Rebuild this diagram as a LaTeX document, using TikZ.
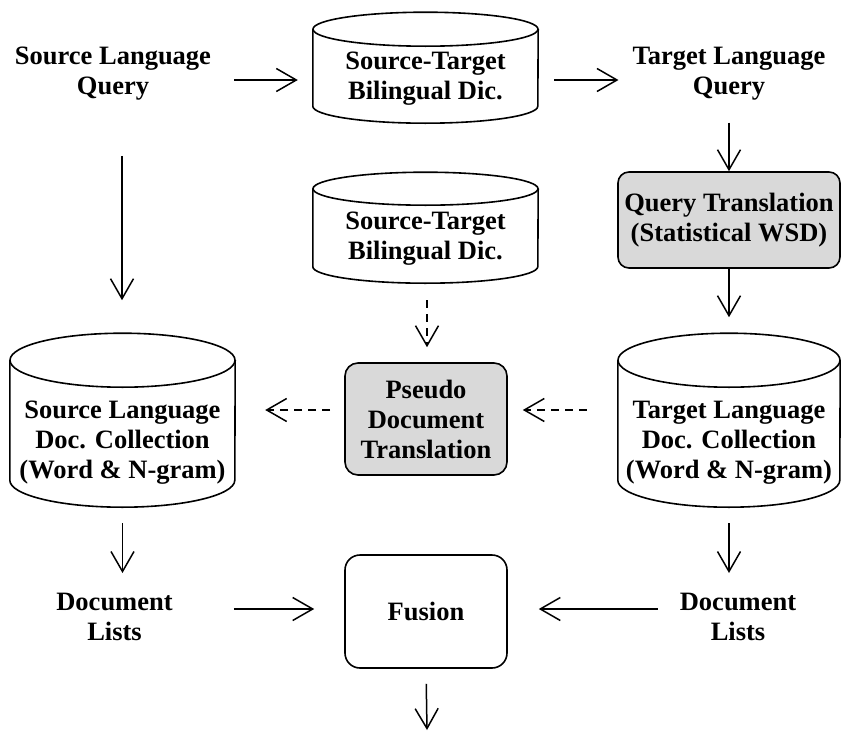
\documentclass[tikz,border=0pt]{standalone}
\usepackage{fontspec}
\setmainfont{Liberation Serif}
\usepackage{tikz}
\usetikzlibrary{shapes.geometric, arrows.meta, positioning, calc}

\begin{document}
\begin{tikzpicture}[
        x=1pt, y=-1pt,
        lbl/.style={align=center, inner sep=0pt, font=\bfseries\fontsize{26.5}{30}\selectfont},
        proc/.style={lbl, draw=black, line width=1.6pt, rounded corners=13pt, minimum width=162pt, minimum height=112pt},
        db/.style={lbl, rectangle},
        dbline/.style={draw=black, line width=1.6pt},
        arrow/.style={-{Straight Barb[length=20pt, width=23pt, line width=1.5pt]}, line width=1.5pt, draw=black},
        dasharrow/.style={arrow, dash pattern=on 8pt off 6pt}
    ]
        \useasboundingbox (0,0) rectangle (841,731);

        % Fila superior: consultas y diccionario
        \node [lbl] (slq) at (113, 74) {Source Language\\Query};
        \node [db, minimum width=225pt, minimum height=88pt] (dic1) at (425.5, 79) {Source-Target\\Bilingual Dic.};
        \node [lbl] (tlq) at (729, 74) {Target Language\\Query};

        % Fila media: traduccion de consulta y diccionario
        \node [db, minimum width=225pt, minimum height=88pt] (dic2) at (425.5, 239) {Source-Target\\Bilingual Dic.};
        \node [proc, fill=black!15, minimum width=222pt, minimum height=96pt, rounded corners=11pt] (qt) at (729, 220) {Query Translation\\(Statistical WSD)};

        % Colecciones de documentos
        \node [db, minimum width=225pt, minimum height=129pt] (scol) at (122.5, 442.5) {Source Language\\Doc. Collection\\(Word \& N-gram)};
        \node [proc, fill=black!15] (pdt) at (426, 419) {Pseudo\\Document\\Translation};
        \node [db, minimum width=222pt, minimum height=129pt] (tcol) at (729, 442.5) {Target Language\\Doc. Collection\\(Word \& N-gram)};

        % Cilindros alrededor de los nodos de datos
        \foreach \n/\h/\r/\w in {dic1/111/17/112.5, dic2/111/16.5/112.5, scol/174/27/112.5, tcol/174/27/111} {
            \draw [dbline] ([yshift=\h pt-\r pt]\n.south west) -- ([yshift=\r pt]\n.south west)
                arc [start angle=180, end angle=360, x radius=\w pt, y radius=\r pt]
                -- ([yshift=\h pt-\r pt]\n.south east);
            \draw [dbline] ([yshift=\h pt-\r pt]\n.south) ellipse [x radius=\w pt, y radius=\r pt];
            \coordinate (\n-top) at ([yshift=\h pt]\n.south);
        }

        % Fila inferior: listas y fusion
        \node [lbl] (dl1) at (114.5, 617) {Document\\Lists};
        \node [proc, minimum height=113pt, rounded corners=15pt] (fus) at (426, 611.5) {Fusion};
        \node [lbl] (dl2) at (738, 617) {Document\\Lists};
        \coordinate (out) at (427, 730);

        % Conexiones
        \draw [arrow, shorten <=23pt, shorten >=15pt] ([yshift=-6pt]slq.east) -- ([yshift=-6pt]slq.east -| dic1.west);
        \draw [arrow, shorten <=16pt, shorten >=14pt] ([yshift=-6pt]tlq.west -| dic1.east) -- ([yshift=-6pt]tlq.west);
        \draw [arrow, shorten <=22pt] (tlq.south) -- (tlq.south |- qt.north);
        \draw [arrow, shorten >=16pt] (qt.south) -- (qt.south |- tcol-top);
        \draw [arrow, shorten <=55pt, shorten >=33pt] ([xshift=9pt]slq.south) -- ([xshift=9pt]slq.south |- scol-top);
        \draw [dasharrow, shorten <=17pt, shorten >=15pt] ([xshift=1.5pt]dic2.south) -- ([xshift=1.5pt]dic2.south |- pdt.north);
        \draw [dasharrow, shorten <=31pt, shorten >=15pt] ([yshift=9pt]pdt.west -| tcol.west) -- ([yshift=9pt]pdt.east);
        \draw [dasharrow, shorten <=14pt, shorten >=30pt] ([yshift=9pt]pdt.west) -- ([yshift=9pt]pdt.west -| scol.east);
        \draw [arrow, shorten <=16pt, shorten >=20pt] (scol.south) -- (scol.south |- dl1.north);
        \draw [arrow, shorten <=16pt, shorten >=20pt] (tcol.south) -- (tcol.south |- dl2.north);
        \draw [arrow, shorten <=61pt, shorten >=30pt] ([yshift=8pt]dl1.east) -- ([yshift=8pt]dl1.east -| fus.west);
        \draw [arrow, shorten <=22pt, shorten >=31pt] ([yshift=8pt]dl2.west) -- ([yshift=8pt]dl2.west -| fus.east);
        \draw [arrow, shorten <=15pt] (fus.south) -- (out);
    \end{tikzpicture}
\end{document}
